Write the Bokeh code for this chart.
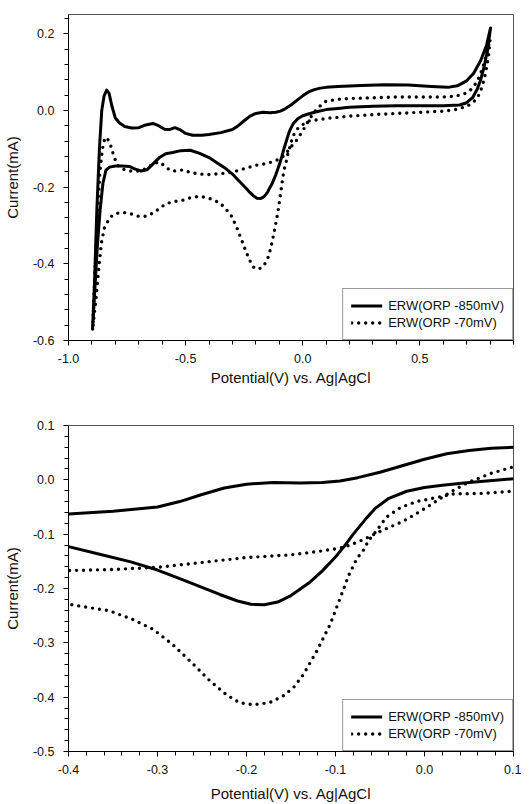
from bokeh.plotting import figure
from bokeh.layouts import column
from bokeh.models import FixedTicker, Legend, LegendItem
from bokeh.embed import file_html
from bokeh.resources import INLINE

series_names = ["ERW(ORP -850mV)", "ERW(ORP -70mV)"]

# ERW (ORP -850 mV): potential (V) and current (mA), closed CV loop
erw850_potential = [
    -0.897, -0.889, -0.879, -0.868, -0.858, -0.848, -0.837, -0.827, -0.815, -0.800,
    -0.782, -0.760, -0.730, -0.700, -0.670, -0.640, -0.615, -0.590, -0.570, -0.545,
    -0.525, -0.500, -0.470, -0.430, -0.400, -0.350, -0.300, -0.275, -0.250, -0.225,
    -0.200, -0.170, -0.140, -0.115, -0.095, -0.075, -0.050, -0.025, 0.000, 0.025,
    0.050, 0.075, 0.100, 0.150, 0.250, 0.350, 0.450, 0.550, 0.620, 0.660,
    0.700, 0.730, 0.760, 0.785, 0.802,
    0.790, 0.775, 0.760, 0.745, 0.725, 0.700, 0.670, 0.600, 0.500, 0.400,
    0.300, 0.200, 0.150, 0.100, 0.050, 0.020, 0.000, -0.020, -0.040, -0.055,
    -0.065, -0.080, -0.090, -0.100, -0.115, -0.130, -0.150, -0.165, -0.180, -0.195,
    -0.210, -0.230, -0.250, -0.275, -0.300, -0.330, -0.365, -0.400, -0.440, -0.480,
    -0.520, -0.555, -0.585, -0.610, -0.640, -0.665, -0.690, -0.715, -0.740, -0.770,
    -0.800, -0.825, -0.840, -0.853, -0.865, -0.876, -0.886, -0.897,
]
erw850_current = [
    -0.567, -0.450, -0.260, -0.100, 0.000, 0.038, 0.053, 0.045, 0.012, -0.020,
    -0.033, -0.042, -0.046, -0.045, -0.038, -0.034, -0.040, -0.049, -0.050, -0.045,
    -0.050, -0.060, -0.065, -0.065, -0.063, -0.058, -0.050, -0.040, -0.027, -0.015,
    -0.008, -0.005, -0.006, -0.005, -0.002, 0.004, 0.014, 0.026, 0.038, 0.048,
    0.054, 0.058, 0.060, 0.062, 0.065, 0.067, 0.066, 0.062, 0.060, 0.064,
    0.077, 0.097, 0.130, 0.170, 0.215,
    0.160, 0.115, 0.080, 0.055, 0.033, 0.020, 0.014, 0.012, 0.012, 0.012,
    0.011, 0.008, 0.005, 0.002, -0.005, -0.010, -0.014, -0.021, -0.034, -0.052,
    -0.070, -0.100, -0.122, -0.142, -0.168, -0.190, -0.213, -0.225, -0.230, -0.229,
    -0.223, -0.211, -0.198, -0.182, -0.166, -0.151, -0.137, -0.123, -0.112, -0.104,
    -0.105, -0.110, -0.113, -0.122, -0.140, -0.155, -0.158, -0.153, -0.146, -0.145,
    -0.145, -0.148, -0.156, -0.190, -0.260, -0.347, -0.450, -0.567,
]

# ERW (ORP -70 mV)
erw70_potential = [
    -0.897, -0.887, -0.877, -0.866, -0.855, -0.846, -0.839, -0.828, -0.818, -0.805,
    -0.790, -0.770, -0.740, -0.710, -0.680, -0.655, -0.630, -0.610, -0.590, -0.565,
    -0.540, -0.510, -0.480, -0.440, -0.400, -0.350, -0.300, -0.250, -0.200, -0.150,
    -0.120, -0.100, -0.090, -0.070, -0.050, -0.025, -0.009, 0.005, 0.020, 0.035,
    0.050, 0.075, 0.100, 0.150, 0.200, 0.300, 0.400, 0.500, 0.600, 0.650,
    0.690, 0.720, 0.745, 0.765, 0.780, 0.792, 0.800,
    0.795, 0.788, 0.778, 0.765, 0.750, 0.730, 0.700, 0.650, 0.600, 0.500,
    0.400, 0.300, 0.200, 0.100, 0.064, 0.032, 0.012, -0.009, -0.027, -0.043,
    -0.054, -0.063, -0.068, -0.076, -0.085, -0.093, -0.106, -0.121, -0.136, -0.147,
    -0.159, -0.174, -0.192, -0.208, -0.223, -0.241, -0.260, -0.283, -0.305, -0.328,
    -0.354, -0.400, -0.440, -0.480, -0.511, -0.550, -0.583, -0.610, -0.640, -0.668,
    -0.697, -0.720, -0.750, -0.780, -0.810, -0.825, -0.846, -0.860, -0.872, -0.884,
    -0.897,
]
erw70_current = [
    -0.570, -0.420, -0.280, -0.160, -0.100, -0.075, -0.070, -0.080, -0.095, -0.122,
    -0.143, -0.153, -0.158, -0.159, -0.155, -0.146, -0.137, -0.135, -0.145, -0.157,
    -0.158, -0.155, -0.162, -0.166, -0.167, -0.165, -0.161, -0.152, -0.143, -0.138,
    -0.132, -0.127, -0.124, -0.111, -0.095, -0.077, -0.062, -0.048, -0.032, -0.017,
    -0.004, 0.012, 0.024, 0.029, 0.031, 0.033, 0.035, 0.035, 0.035, 0.037,
    0.043, 0.055, 0.075, 0.105, 0.135, 0.165, 0.185,
    0.150, 0.120, 0.090, 0.060, 0.038, 0.022, 0.010, 0.002, -0.002, -0.005,
    -0.008, -0.011, -0.015, -0.021, -0.025, -0.026, -0.033, -0.040, -0.051, -0.069,
    -0.094, -0.112, -0.128, -0.145, -0.175, -0.210, -0.266, -0.315, -0.358, -0.382,
    -0.398, -0.410, -0.414, -0.410, -0.395, -0.370, -0.339, -0.303, -0.275, -0.257,
    -0.241, -0.229, -0.224, -0.228, -0.234, -0.238, -0.243, -0.255, -0.268, -0.276,
    -0.277, -0.272, -0.267, -0.266, -0.272, -0.282, -0.304, -0.347, -0.420, -0.500,
    -0.570,
]

# Axis ticks and labels
top_x_ticks = [-1.0, -0.5, 0.0, 0.5]
top_x_labels = ["-1.0", "-0.5", "0.0", "0.5"]
top_y_ticks = [-0.6, -0.4, -0.2, 0.0, 0.2]
top_y_labels = ["-0.6", "-0.4", "-0.2", "0.0", "0.2"]
bot_x_ticks = [-0.4, -0.3, -0.2, -0.1, 0.0, 0.1]
bot_x_labels = ["-0.4", "-0.3", "-0.2", "-0.1", "0.0", "0.1"]
bot_y_ticks = [-0.5, -0.4, -0.3, -0.2, -0.1, 0.0, 0.1]
bot_y_labels = ["-0.5", "-0.4", "-0.3", "-0.2", "-0.1", "0.0", "0.1"]

x_title = "Potential(V) vs. Ag|AgCl"
y_title = "Current(mA)"

FONT = "Liberation Sans"


def minor_list(start, stop, step, majors):
    n = int(round((stop - start) / step))
    vals = [round(start + i * step, 4) for i in range(n + 1)]
    return [v for v in vals if all(abs(v - m) > 1e-6 for m in majors)]


def make_fig(xr, yr, xt, xl, xminor, yt, yl, yminor, top_border, bottom_border,
             xlabel_standoff):
    p = figure(x_range=xr, y_range=yr, frame_width=445, frame_height=326,
               output_backend="svg", toolbar_location=None,
               min_border_left=68, min_border_right=8,
               min_border_top=top_border, min_border_bottom=bottom_border,
               background_fill_color="white", border_fill_color="white")
    p.xgrid.visible = False
    p.ygrid.visible = False
    p.outline_line_color = "#555555"
    p.outline_line_width = 1

    p.xaxis.ticker = FixedTicker(ticks=xt, minor_ticks=xminor)
    p.yaxis.ticker = FixedTicker(ticks=yt, minor_ticks=yminor)
    p.xaxis.major_label_overrides = {t: s for t, s in zip(xt, xl)}
    p.yaxis.major_label_overrides = {t: s for t, s in zip(yt, yl)}

    for ax in (p.xaxis, p.yaxis):
        ax.axis_line_color = "black"
        ax.axis_line_width = 1
        ax.major_tick_in = 0
        ax.major_tick_out = 5
        ax.minor_tick_in = 0
        ax.minor_tick_out = 4
        ax.major_tick_line_color = "black"
        ax.minor_tick_line_color = "black"
        ax.major_label_text_font = FONT
        ax.major_label_text_font_size = "12.5px"
        ax.major_label_text_color = "#111111"
        ax.axis_label_text_font = FONT
        ax.axis_label_text_font_size = "15px"
        ax.axis_label_text_font_style = "normal"
        ax.axis_label_text_color = "#111111"
    p.xaxis.axis_label = x_title
    p.yaxis.axis_label = y_title
    p.xaxis.major_label_standoff = 8
    p.yaxis.major_label_standoff = 9
    p.xaxis.axis_label_standoff = xlabel_standoff
    p.yaxis.axis_label_standoff = 9

    r1 = p.line(erw850_potential, erw850_current, line_color="black", line_width=3,
                line_join="round", line_cap="round")
    r2 = p.line(erw70_potential, erw70_current, line_color="black", line_width=3.4,
                line_dash="0 7", line_cap="round", line_join="round")

    legend = Legend(items=[LegendItem(label=series_names[0], renderers=[r1]),
                           LegendItem(label=series_names[1], renderers=[r2])],
                    location="bottom_right", margin=0, padding=8, spacing=0,
                    label_height=17, glyph_height=17, glyph_width=31,
                    label_standoff=6, border_line_color="#333333",
                    border_line_width=1, background_fill_alpha=1,
                    label_text_font=FONT, label_text_font_size="13px",
                    label_text_color="#111111")
    p.add_layout(legend)
    return p


p1 = make_fig((-1.0, 0.9), (-0.6, 0.25), top_x_ticks, top_x_labels,
              minor_list(-1.0, 0.9, 0.1, top_x_ticks), top_y_ticks, top_y_labels,
              minor_list(-0.6, 0.24, 0.04, top_y_ticks), 14, 52, 3)
p2 = make_fig((-0.4, 0.1), (-0.5, 0.1), bot_x_ticks, bot_x_labels,
              minor_list(-0.4, 0.1, 0.02, bot_x_ticks), bot_y_ticks, bot_y_labels,
              minor_list(-0.5, 0.1, 0.02, bot_y_ticks), 33, 50, 8)

layout = column(p1, p2, spacing=0)
open("out.html", "w").write(file_html(layout, INLINE))
